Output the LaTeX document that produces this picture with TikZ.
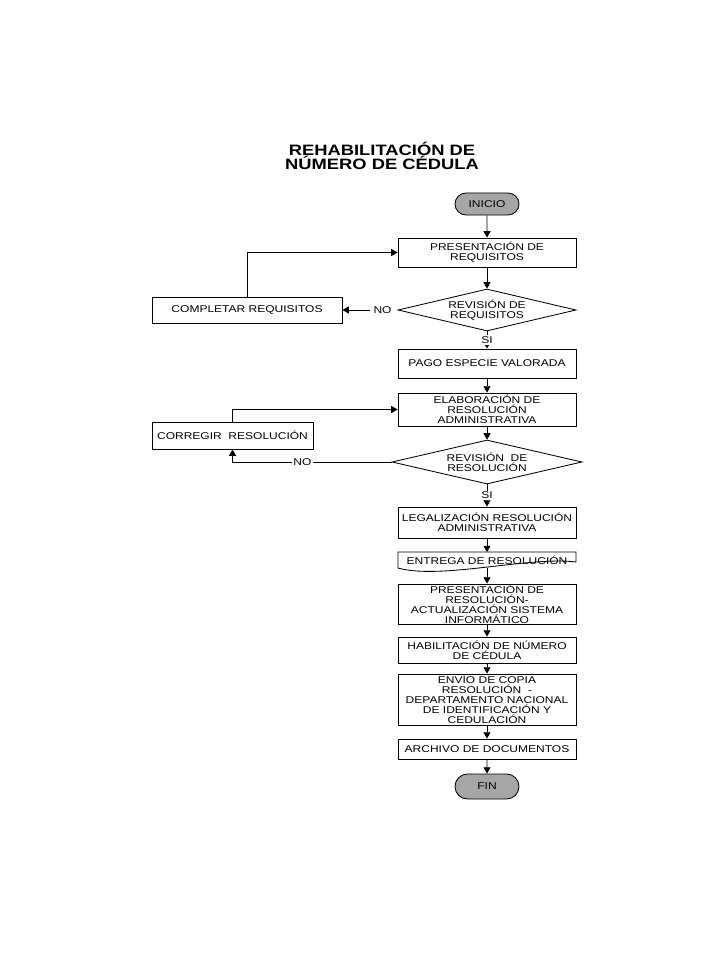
\documentclass[tikz,border=0pt]{standalone}
\usepackage{fontspec}
\setmainfont{Liberation Sans}[FakeStretch=1.22]
\usepackage{tikz}
\usetikzlibrary{arrows.meta}
\usetikzlibrary{positioning}
\usetikzlibrary{shapes.geometric}
\usetikzlibrary{shapes.misc}
\newcommand{\boxfont}{\fontsize{7}{7.2}\selectfont}
\newcommand{\titlefont}{\fontsize{10.7}{10}\selectfont\bfseries}
\definecolor{mgray}{RGB}{166,166,166}
\tikzset{box/.style = {draw, rectangle, inner sep = 0, minimum width = 4.45cm, align = center, font = \boxfont}}
\tikzset{term/.style = {draw, fill = mgray, rounded rectangle, inner sep = 0, minimum width = 1.6cm, font = \boxfont}}
\tikzset{decision/.style = {draw, diamond, aspect = 4.2, inner sep = 0, align = center, font = \boxfont}}
\tikzset{flow/.style = {-{Triangle[length = 4.5pt, width = 5pt]}}}
\tikzset{lbl/.style = {fill = white, inner sep = 1pt, font = \boxfont}}

\begin{document}
\begin{tikzpicture}[x = 0.025cm, y = -0.025cm, line width = 0.6pt]
      \useasboundingbox (0, 0) rectangle (720, 960);

      \node [font = \titlefont, align = center] (title) at (382, 156) {REHABILITACIÓN DE\\NÚMERO DE CÉDULA};

      \node [term, minimum height = 0.55cm] (inicio) at (487, 204) {INICIO};
      \node [box, minimum height = 0.725cm] (pres) at (487, 252.5) {PRESENTACIÓN DE\\REQUISITOS};
      \node [decision, minimum width = 4.45cm, minimum height = 1.05cm] (revreq) at (487, 310) {REVISIÓN DE\\REQUISITOS};
      \node [box, minimum width = 4.75cm, minimum height = 0.65cm] (completar) at (247, 310) {COMPLETAR REQUISITOS};
      \node [lbl, inner sep = 2pt, left = 2pt of revreq.west] (noreq) {NO};

      \node [box, minimum height = 0.725cm] (pago) at (487, 363.5) {PAGO ESPECIE VALORADA};
      \node [box, minimum height = 0.825cm] (elab) at (487, 409.5) {ELABORACIÓN DE\\RESOLUCIÓN\\ADMINISTRATIVA};
      \node [box, minimum width = 4.025cm, minimum height = 0.675cm] (corregir) at (232.5, 435.5) {CORREGIR\ \ RESOLUCIÓN};
      \node [decision, minimum width = 4.75cm, minimum height = 1.1cm] (revres) at (487, 462) {REVISIÓN\ \ DE\\RESOLUCIÓN};

      \node [box, minimum height = 0.775cm] (legal) at (487, 522.5) {LEGALIZACIÓN RESOLUCIÓN\\ADMINISTRATIVA};
      % documento con borde ondulado
      \draw (398, 552) -- (576, 552) -- (576, 562) .. controls (530, 556) and (440, 580) .. (398, 568) -- cycle;
      \node [box, draw = none, minimum height = 0.375cm] (entrega) at (487, 560) {ENTREGA DE RESOLUCIÓN};
      \node [box, minimum height = 1cm] (presres) at (487, 604) {PRESENTACIÓN DE\\RESOLUCIÓN-\\ACTUALIZACIÓN SISTEMA\\INFORMÁTICO};
      \node [box, minimum height = 0.65cm] (habil) at (487, 650) {HABILITACIÓN DE NÚMERO\\DE CÉDULA};
      \node [box, minimum height = 1.275cm] (envio) at (487, 699.5) {ENVÍO DE COPIA\\RESOLUCIÓN\ \ -\\DEPARTAMENTO NACIONAL\\DE IDENTIFICACIÓN Y\\CEDULACIÓN};
      \node [box, minimum height = 0.5cm] (archivo) at (487, 749) {ARCHIVO DE DOCUMENTOS};
      \node [term, minimum height = 0.625cm] (fin) at (487, 786.5) {FIN};

      \draw [flow] (inicio) -- (pres);
      \draw [flow] (pres) -- (revreq);
      \draw [flow] (noreq) -- (completar);
      \draw [flow] (completar.north) |- (pres.west);
      \draw [flow] (revreq) -- node [lbl] {SI} (pago);
      \draw [flow] (pago) -- (elab);
      \draw [flow] (elab) -- (revres);
      \draw [flow] (revres.west) -| node [lbl, pos = 0.28] {NO} (corregir.south);
      \draw [flow] (corregir.north) |- (elab.west);
      \draw [flow] (revres) -- node [lbl] {SI} (legal);
      \draw [flow] (legal) -- (entrega);
      \draw [flow] (entrega) -- (presres);
      \draw [flow] (presres) -- (habil);
      \draw [flow] (habil) -- (envio);
      \draw [flow] (envio) -- (archivo);
      \draw [flow] (archivo) -- (fin);
    \end{tikzpicture}
\end{document}
